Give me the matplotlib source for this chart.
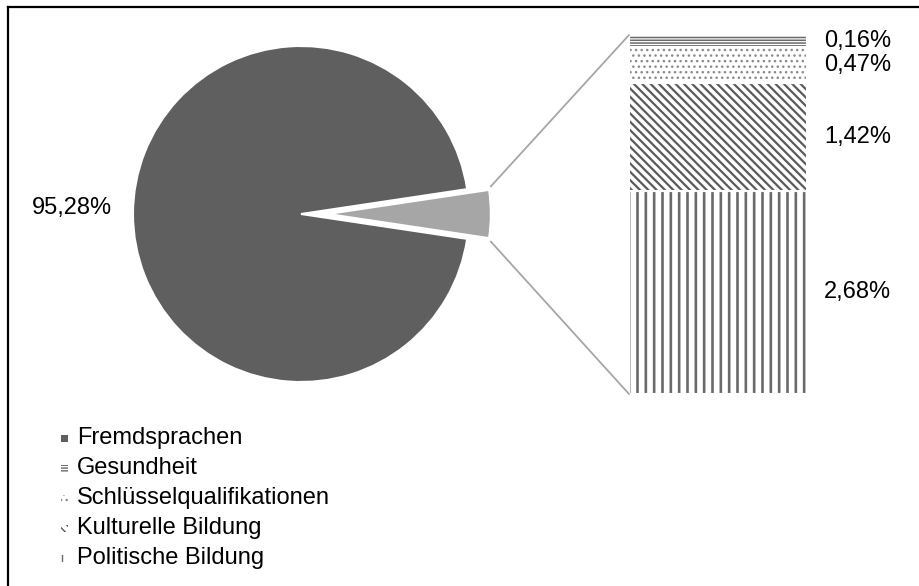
import matplotlib
matplotlib.use("Agg")
import matplotlib.pyplot as plt
from matplotlib.patches import ConnectionPatch
from matplotlib.lines import Line2D
from matplotlib.transforms import blended_transform_factory
import numpy as np

plt.rcParams['font.family'] = ['Liberation Sans', 'DejaVu Sans']

# ---- data ----
main_category = "Fremdsprachen"
main_value = 95.28
sub_categories = ["Gesundheit", "Schlüsselqualifikationen", "Kulturelle Bildung", "Politische Bildung"]
sub_values = [0.16, 0.47, 1.42, 2.68]
sub_labels = ["0,16%", "0,47%", "1,42%", "2,68%"]
main_label = "95,28%"
legend_labels = ["Fremdsprachen", "Gesundheit", "Schlüsselqualifikationen", "Kulturelle Bildung", "Politische Bildung"]

# ---- styles ----
DARK = "#5f5f5f"
LIGHT = "#a6a6a6"
LINEC = "#a6a6a6"
hatches = ["------", "...", "\\\\\\\\", "||"]
hatch_colors = ["#6a6a6a", "#8a8a8a", "#5a5a5a", "#6a6a6a"]
hatch_lws = [1.1, 1.0, 1.6, 1.9]
FS = 17

W, H = 920, 586
fig = plt.figure(figsize=(W / 100, H / 100), dpi=100)

# border (top + left visible)
fig.add_artist(Line2D([8 / W, 8 / W], [0, 1 - 7 / H], transform=fig.transFigure, color="black", lw=1.6))
fig.add_artist(Line2D([8 / W, 1], [1 - 7 / H, 1 - 7 / H], transform=fig.transFigure, color="black", lw=1.6))

# ---- pie ----
R = 168.0
cx, cy = 301.0, 214.0
half = 200.0
ax_pie = fig.add_axes([(cx - half) / W, (H - cy - half) / H, 2 * half / W, 2 * half / H])

other = sum(sub_values)
start = -other / 2 * 3.6
explode = 0.16
wedges, _ = ax_pie.pie([other, main_value], colors=[LIGHT, DARK], startangle=start,
                       counterclock=True, explode=[explode, 0], radius=1.0,
                       wedgeprops=dict(edgecolor="white", linewidth=1.5))
small_r = 0.97
wedges[0].set_radius(small_r)
ax_pie.set_xlim(-half / R, half / R)
ax_pie.set_ylim(-half / R, half / R)
ax_pie.set_aspect("equal")
ax_pie.axis("off")

# main label
ax_pie.text(-(cx - 72) / R, (cy - 208) / R, main_label, ha="center", va="center", fontsize=FS)

# ---- stacked bar ----
bx0, bx1, by0, by1 = 629, 807, 35, 394
ax_bar = fig.add_axes([bx0 / W, (H - by1) / H, (bx1 - bx0) / W, (by1 - by0) / H])
ax_bar.set_xlim(-0.5, 0.5)
ax_bar.set_ylim(0, other)
ax_bar.axis("off")

order = list(range(len(sub_values)))[::-1]  # Politische at bottom
bottom = 0.0
for i in order:
    plt.rcParams['hatch.linewidth'] = hatch_lws[i]
    b = ax_bar.bar(0, sub_values[i], width=1.0, bottom=bottom, color="white",
                   edgecolor=hatch_colors[i], linewidth=0, hatch=hatches[i])[0]
    if hasattr(b, "set_hatch_linewidth"):
        b.set_hatch_linewidth(hatch_lws[i])
    ax_bar.bar(0, sub_values[i], width=1.0, bottom=bottom, fill=False,
               edgecolor="white", linewidth=1.5)
    tr = blended_transform_factory(ax_bar.transAxes, ax_bar.transData)
    ax_bar.text(1.095, bottom + sub_values[i] / 2, sub_labels[i], transform=tr,
                ha="left", va="center", fontsize=FS)
    bottom += sub_values[i]

# ---- connector lines ----
theta = np.deg2rad(other / 2 * 3.6)
ex = explode
for sgn, ybar in [(1, other), (-1, 0)]:
    px = ex + small_r * np.cos(theta)
    py = sgn * small_r * np.sin(theta)
    con = ConnectionPatch(xyA=(px + 0.01, py + sgn * 0.02), coordsA=ax_pie.transData,
                          xyB=(-0.5, ybar), coordsB=ax_bar.transData,
                          color=LINEC, lw=1.3)
    fig.add_artist(con)

# ---- legend ----
legend_y = [438, 468, 498, 528, 558]
mk_x = 65
for j, lab in enumerate(legend_labels):
    y = 1 - legend_y[j] / H
    if j == 0:
        fig.add_artist(plt.Rectangle(((mk_x - 3.5) / W, y - 3.5 / H), 7 / W, 7 / H,
                                     transform=fig.transFigure, facecolor=DARK, edgecolor="none"))
    else:
        k = j - 1
        plt.rcParams['hatch.linewidth'] = min(hatch_lws[k], 1.0)
        r = plt.Rectangle(((mk_x - 3.5) / W, y - 3.5 / H), 7 / W, 7 / H,
                          transform=fig.transFigure, facecolor="white",
                          edgecolor=hatch_colors[k], linewidth=0, hatch=hatches[k])
        fig.add_artist(r)
    fig.text(77 / W, y, lab, ha="left", va="center", fontsize=FS)

fig.savefig("out.png", dpi=100)
